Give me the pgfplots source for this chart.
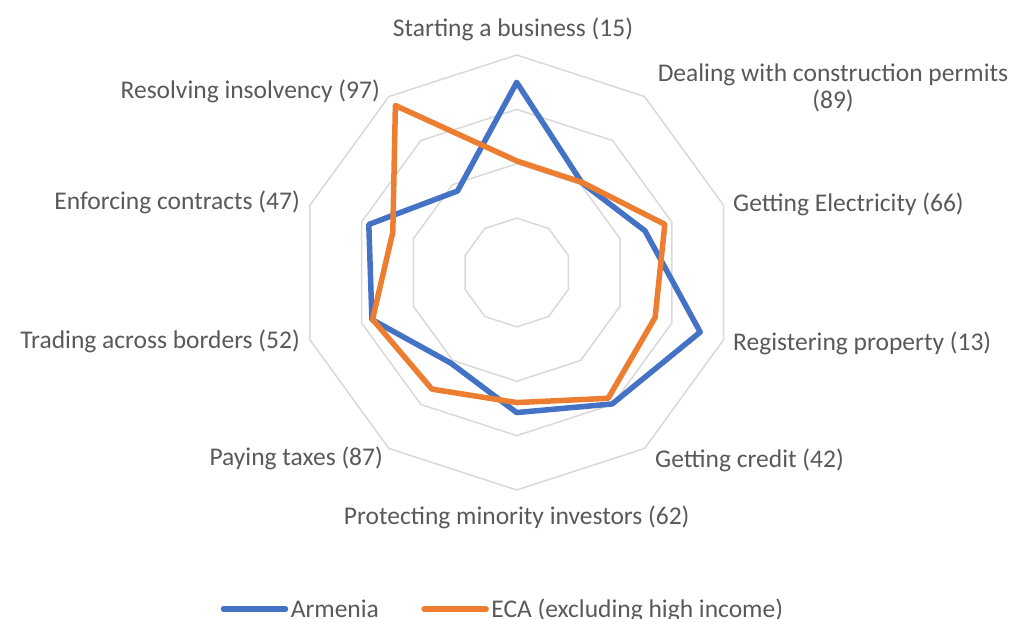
\documentclass[border=0pt]{standalone}
\usepackage{pgfplots}
\pgfplotsset{compat=1.18}
\usepackage{fontspec}
\setmainfont{Carlito}
\definecolor{armblue}{HTML}{4472C4}
\definecolor{ecaorange}{HTML}{ED7D31}
\definecolor{gridgray}{HTML}{D9D9D9}
\definecolor{textgray}{HTML}{595959}
\begin{document}
\begin{tikzpicture}[font=\fontsize{25.5bp}{28bp}\selectfont, lab/.style={text=textgray, inner sep=0pt}]
\useasboundingbox (0,0) rectangle (1014bp,619bp);
\begin{axis}[
  at={(0,0)}, anchor=south west,
  scale only axis, width=1014bp, height=619bp,
  xmin=-237.56, xmax=228.64, ymin=-159.31, ymax=125.29,
  hide axis, clip=false,
  legend columns=2,
  legend image code/.code={\draw[#1] (0bp,0bp) -- (62bp,0bp);},
  legend style={draw=none, fill=none, inner sep=0pt,
    at={(axis description cs:0.2175,0.016)}, anchor=west,
    nodes={inner sep=2.5bp, text=textgray},
    /tikz/every even column/.append style={column sep=40bp},
    font=\fontsize{25.5bp}{28bp}\selectfont},
]
% grid decagons
\foreach \r in {25,50,75,100}{
  \edef\tmp{\noexpand\addplot[forget plot, data cs=polar, draw=gridgray, line width=1.5bp]
    coordinates {(90,\r) (54,\r) (18,\r) (-18,\r) (-54,\r) (-90,\r) (-126,\r) (-162,\r) (-198,\r) (-234,\r) (-270,\r)};}
  \tmp
}
% Armenia
\addplot[data cs=polar, draw=armblue, line width=5.5bp, line join=round, line cap=round]
  coordinates {(90,87.4) (54,51.0) (18,62.0) (-18,88.7) (-54,74.7) (-90,64.4) (-126,51.5) (-162,70.0) (-198,71.5) (-234,46.3) (-270,87.4)};
\addlegendentry{Armenia}
% ECA
\addplot[data cs=polar, draw=ecaorange, line width=5.5bp, line join=round, line cap=round]
  coordinates {(90,51.3) (54,51.2) (18,71.6) (-18,66.9) (-54,71.5) (-90,59.8) (-126,66.3) (-162,69.7) (-198,59.9) (-234,94.9) (-270,51.3)};
\addlegendentry{ECA (excluding high income)}
% category labels
\node[lab, anchor=base] at (axis cs:-1.7,108.41) {Starting a business (15)};
\node[lab, anchor=base] at (axis cs:145.43,87.72) {Dealing with construction permits};
\node[lab, anchor=base] at (axis cs:145.43,75.49) {(89)};
\node[lab, anchor=base west] at (axis cs:99.45,27.95) {Getting Electricity (66)};
\node[lab, anchor=base west] at (axis cs:99.45,-36.09) {Registering property (13)};
\node[lab, anchor=base west] at (axis cs:63.59,-89.43) {Getting credit (42)};
\node[lab, anchor=base] at (axis cs:0,-116.09) {Protecting minority investors (62)};
\node[lab, anchor=base east] at (axis cs:-61.47,-88.51) {Paying taxes (87)};
\node[lab, anchor=base east] at (axis cs:-99.63,-35.17) {Trading across borders (52)};
\node[lab, anchor=base east] at (axis cs:-99.63,28.74) {Enforcing contracts (47)};
\node[lab, anchor=base east] at (axis cs:-62.85,80.09) {Resolving insolvency (97)};
\end{axis}
\end{tikzpicture}
\end{document}
